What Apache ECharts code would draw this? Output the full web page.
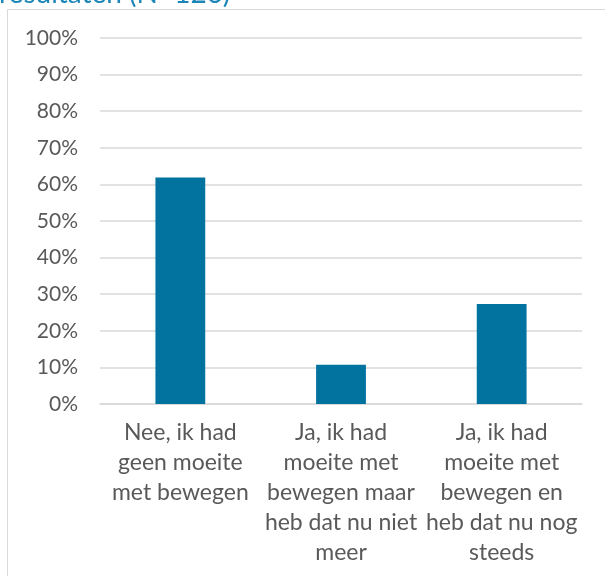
<!DOCTYPE html>
<html>
<head>
<meta charset="utf-8">
<script src="https://cdn.jsdelivr.net/npm/echarts@6/dist/echarts.min.js"></script>
<style>
  html, body { margin: 0; padding: 0; background: #fff; }
  #chart { width: 605px; height: 576px; }
</style>
</head>
<body>
<div id="chart"></div>
<script>
// Answer categories (line breaks as they wrap under each bar)
const categories = [
  'Nee, ik had\ngeen moeite\nmet bewegen',
  'Ja, ik had\nmoeite met\nbewegen maar\nheb dat nu niet\nmeer',
  'Ja, ik had\nmoeite met\nbewegen en\nheb dat nu nog\nsteeds'
];
// Share of respondents per answer, in percent
const shares = [61.9, 10.7, 27.3];
// Value axis tick range
const yMin = 0, yMax = 100, yStep = 10;
const titleText = 'resultaten (N=126)';

const FONT = 'Lato, "Open Sans", sans-serif';
const chart = echarts.init(document.getElementById('chart'), null, { renderer: 'canvas' });
chart.setOption({
  animation: false,
  backgroundColor: '#ffffff',
  graphic: [
    {
      type: 'rect',
      shape: { x: 7.5, y: 9.5, width: 640, height: 620 },
      style: { fill: 'none', stroke: '#d9d9d9', lineWidth: 1 },
      z: -1
    },
    {
      type: 'text',
      left: -1, top: -20,
      style: { text: titleText, fill: '#1c86b6', font: '400 28px ' + FONT }
    }
  ],
  grid: { left: 100, right: 23, top: 38, bottom: 172, containLabel: false },
  xAxis: {
    type: 'category',
    data: categories,
    axisLine: { lineStyle: { color: '#d9d9d9', width: 1.5 } },
    axisTick: { show: false },
    axisLabel: {
      color: '#595959', fontFamily: FONT, fontSize: 23, lineHeight: 30,
      margin: 14, interval: 0, align: 'center'
    }
  },
  yAxis: {
    type: 'value',
    min: yMin, max: yMax, interval: yStep,
    axisLine: { show: false },
    axisTick: { show: false },
    splitLine: { lineStyle: { color: '#d9d9d9', width: 1.5 } },
    axisLabel: {
      color: '#595959', fontFamily: FONT, fontSize: 21, margin: 22,
      formatter: v => v + '%'
    }
  },
  series: [{
    type: 'bar',
    data: shares,
    barWidth: '31%',
    itemStyle: { color: '#02729f' }
  }]
});
</script>
</body>
</html>
